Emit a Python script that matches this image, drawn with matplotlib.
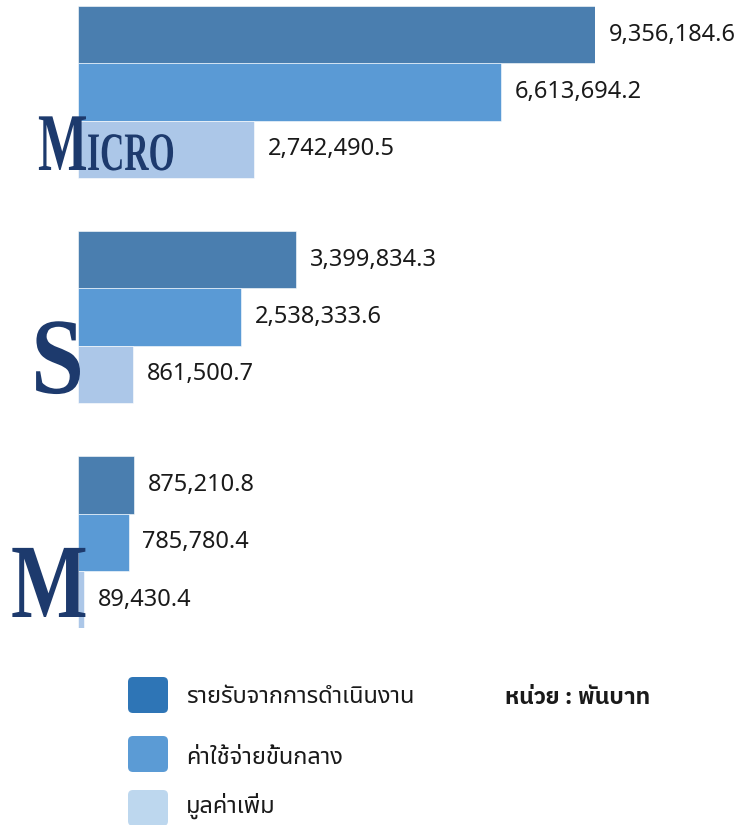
"""Horizontal grouped bars: Micro / S / M enterprises, three money series (thousand baht)."""
import matplotlib
matplotlib.use("Agg")
import matplotlib.pyplot as plt
from matplotlib.patches import FancyBboxPatch
from matplotlib.patheffects import AbstractPathEffect
from matplotlib.transforms import Affine2D, Bbox

plt.rcParams["font.family"] = ["Noto Sans Thai", "DejaVu Sans"]

# Data (thousand baht)
GROUPS = ["Micro", "S", "M"]
SERIES = ["รายรับจากการดำเนินงาน", "ค่าใช้จ่ายขั้นกลาง", "มูลค่าเพิ่ม"]
REVENUE = [9356184.6, 3399834.3, 875210.8]
COSTS = [6613694.2, 2538333.6, 785780.4]
VALUE_ADDED = [2742490.5, 861500.7, 89430.4]
UNIT = "หน่วย : พันบาท"

BAR_COLORS = ["#4a7eaf", "#5a9ad5", "#acc7e8"]
LEGEND_COLORS = ["#2e75b6", "#5b9bd5", "#bdd7ee"]
NAVY = "#1d3a6d"
XMAX = 8.08e6          # the longest bar runs past the axis and gets clipped
H = 0.2547             # bar height, group spacing = 1


class Squeeze(AbstractPathEffect):
    """Draw text glyphs narrower (condensed display letters)."""
    def __init__(self, sx):
        super().__init__()
        self.sx = sx

    def draw_path(self, renderer, gc, tpath, affine, rgbFace=None):
        renderer.draw_path(gc, tpath, Affine2D().scale(self.sx, 1) + affine, rgbFace)


def squeezed_text(ax, x, y, s, sx, **kw):
    t = ax.text(x, y, s, path_effects=[Squeeze(sx)], **kw)
    orig = t.get_window_extent

    def extent(renderer=None, dpi=None):
        bb = orig(renderer, dpi)
        return Bbox([[bb.x0, bb.y0], [bb.x0 + bb.width * sx, bb.y1]])
    t.get_window_extent = extent
    return t


W, HT = 754, 825
fig = plt.figure(figsize=(W / 100, HT / 100), dpi=100)
ax = fig.add_axes([78.3 / W, 1 - 628.3 / HT, (595 - 78.3) / W, 622.3 / HT])

for i, vals in enumerate([REVENUE, COSTS, VALUE_ADDED]):
    ys = [g + (i - 1) * H for g in range(len(GROUPS))]
    ax.barh(ys, vals, height=H, color=BAR_COLORS[i], edgecolor="white", linewidth=0.4)
    for y, v in zip(ys, vals):
        ax.annotate(f"{v:,.1f}", (min(v, XMAX), y), xytext=(10, 0), textcoords="offset points",
                    va="center", ha="left", fontsize=17, color="#1a1a1a", annotation_clip=False)

ax.set_xlim(0, XMAX)
ax.set_ylim(len(GROUPS) - 1 + 1.5 * H, -1.5 * H)
ax.axis("off")

# overlay in pixel units for the group names and the legend
ov = fig.add_axes([0, 0, 1, 1], zorder=5)
ov.set_xlim(0, W); ov.set_ylim(HT, 0); ov.axis("off")
serif = dict(family="Liberation Serif", weight="bold", color=NAVY, va="baseline", ha="left")
squeezed_text(ov, 38, 170, "M", 0.64, fontsize=59, **serif)
squeezed_text(ov, 87, 170, "ICRO", 0.62, fontsize=39, **serif)
squeezed_text(ov, 31, 393, "S", 0.88, fontsize=78, **serif)
squeezed_text(ov, 11, 617, "M", 0.77, fontsize=76, **serif)

for k, (name, col) in enumerate(zip(SERIES, LEGEND_COLORS)):
    top = [677, 736, 790][k]
    ov.add_patch(FancyBboxPatch((128, top), 40, 36, boxstyle="round,pad=0,rounding_size=5",
                                facecolor=col, edgecolor="none"))
    ov.text(186, [697, 758, 806][k], name, fontsize=17, va="center", ha="left", color="#1a1a1a")
ov.text(505, 697, UNIT, fontsize=16.5, weight="bold", va="center", ha="left", color="#1a1a1a",
        family=["IBM Plex Sans Thai", "DejaVu Sans"])

fig.savefig("out.png", dpi=100)
